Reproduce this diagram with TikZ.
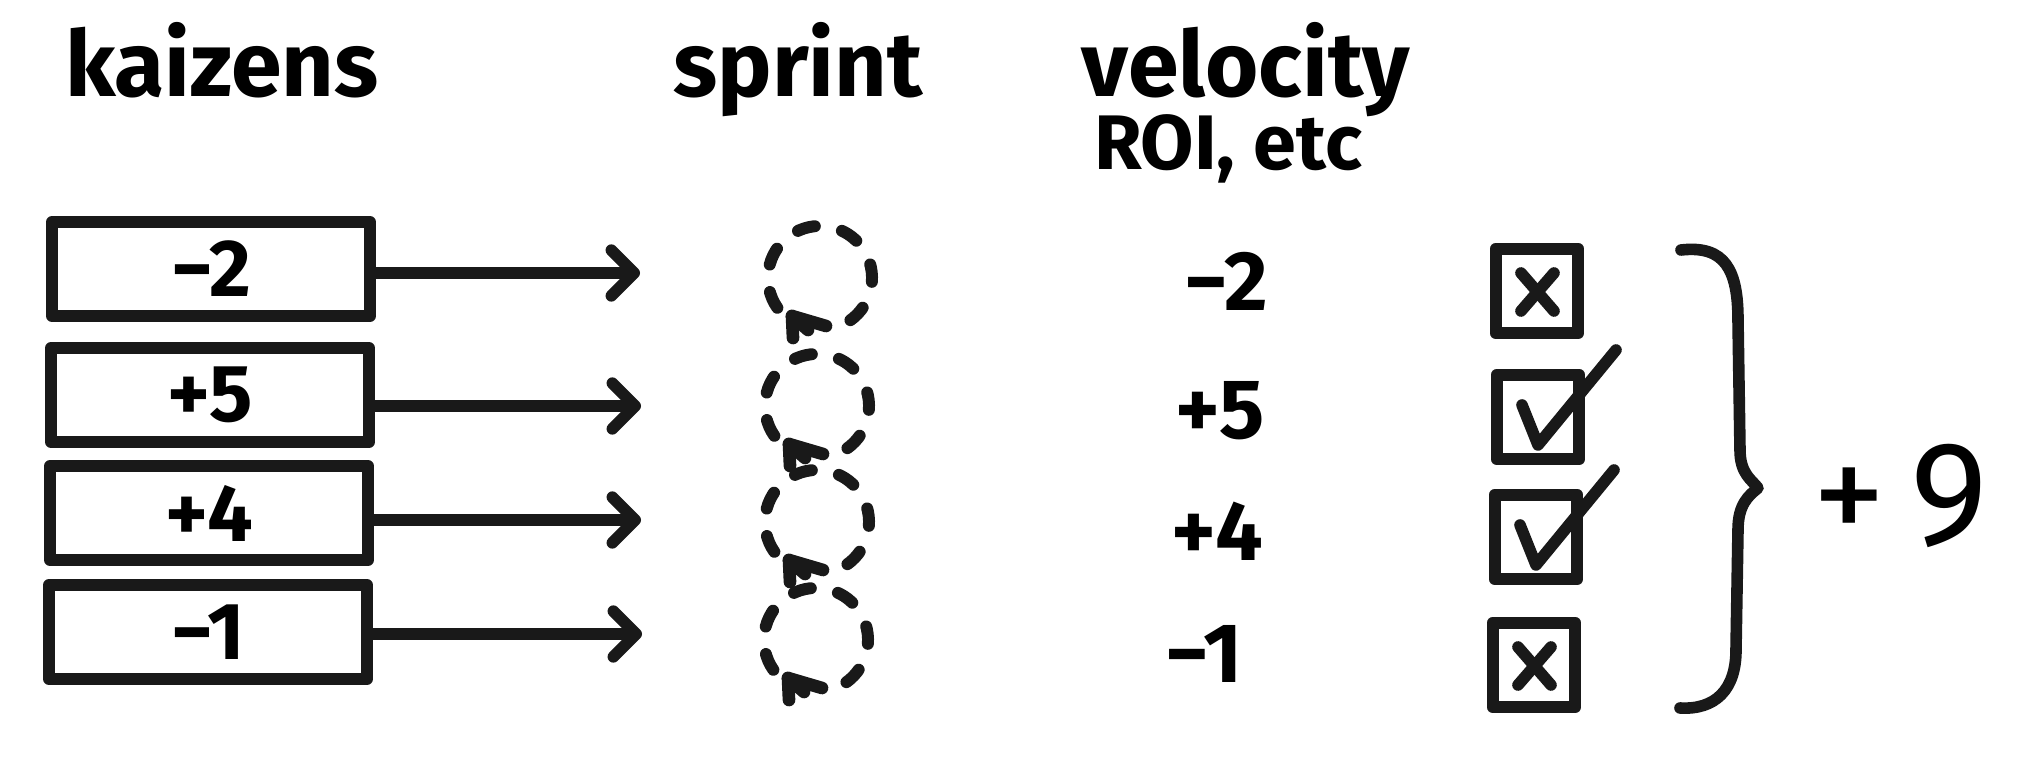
\documentclass[tikz,border=0pt]{standalone}
\usepackage{fontspec}
\setmainfont{Fira Sans}
\usetikzlibrary{arrows.meta}
\begin{document}
\begin{tikzpicture}[x=0.01cm,y=-0.01cm,
  ink/.style={line width=3.3pt, line cap=round, line join=round, draw=black!90},
  kbox/.style={ink, rectangle, minimum width=3.18cm, minimum height=0.94cm, inner sep=0pt,
               font=\bfseries\fontsize{23}{23}\selectfont},
  arr/.style={ink, -{Straight Barb[length=6.5pt,width=13pt,line cap=round,line join=round]}},
  sprintc/.style={circle, minimum size=1.04cm, inner sep=0pt},
  spdash/.style={line width=3.4pt, draw=black!90, dash pattern=on 5pt off 7.9pt, line cap=round},
  sphead/.style={line width=3.6pt, line cap=round, line join=round, draw=black!90},
  head/.style={anchor=base, inner sep=0pt, font=\bfseries\fontsize{26}{26}\selectfont},
  vel/.style={inner sep=0pt, font=\bfseries\fontsize{24}{24}\selectfont},
  chk/.style={ink, line width=3.6pt, rectangle, minimum width=0.82cm, minimum height=0.84cm, inner sep=0pt},
  tick/.style={ink, line width=3.3pt}
]
\fill[white] (0,0) rectangle (2020,767);
\useasboundingbox (0,0) rectangle (2020,767);

% headers
\node[head] (hk) at (222,97) {kaizens};
\node[head] (hs) at (798,97) {sprint};
\node[head] (hv) at (1246,97) {velocity};
\node[head, font=\bfseries\fontsize{22}{22}\selectfont] (hr) at (1228,170) {ROI, etc};

% kaizen boxes
\node[kbox] (k1) at (211,269) {−2};
\node[kbox] (k2) at (210,395) {+5};
\node[kbox] (k3) at (209,513) {+4};
\node[kbox] (k4) at (208,632) {−1};

% arrow ends
\coordinate (e1) at (640,273);
\coordinate (e2) at (641,406);
\coordinate (e3) at (641,520);
\coordinate (e4) at (642,634);
\draw[arr] (k1.east |- e1) -- (e1);
\draw[arr] (k2.east |- e2) -- (e2);
\draw[arr] (k3.east |- e3) -- (e3);
\draw[arr] (k4.east |- e4) -- (e4);

% sprint circles
\node[sprintc] (s1) at (820,278) {};
\node[sprintc] (s2) at (817,406) {};
\node[sprintc] (s3) at (817,522) {};
\node[sprintc] (s4) at (816,640) {};
\foreach \s in {s1,s2,s3,s4}{
  \draw[spdash] (\s.center) ++(215:0.52cm) arc[start angle=215, end angle=-55, radius=0.52cm];
  \draw[sphead] ([shift={(-27,60)}]\s.center) -- ([shift={(-28,38)}]\s.center)
      -- ([shift={(6,48)}]\s.center);
  \draw[sphead] ([shift={(-28,38)}]\s.center) -- ([shift={(-12,52)}]\s.center);
}

% velocity values
\node[vel] (v1) at (1226,281) {−2};
\node[vel] (v2) at (1220,411) {+5};
\node[vel] (v3) at (1217,531) {+4};
\node[vel] (v4) at (1204,654) {−1};

% check boxes
\node[chk] (c1) at (1537,291) {};
\node[chk] (c2) at (1538,417) {};
\node[chk] (c3) at (1536,537) {};
\node[chk] (c4) at (1534,665) {};

\draw[tick] ([shift={(-16,-18)}]c1.center) -- ([shift={(17,20)}]c1.center);
\draw[tick] ([shift={(17,-18)}]c1.center) -- ([shift={(-16,20)}]c1.center);
\draw[tick] ([shift={(-16,-18)}]c4.center) -- ([shift={(17,20)}]c4.center);
\draw[tick] ([shift={(17,-18)}]c4.center) -- ([shift={(-16,20)}]c4.center);

\draw[tick] ([shift={(-16,-12)}]c2.center) -- ([shift={(0,28)}]c2.center) -- ([shift={(78,-67)}]c2.center);
\draw[tick] ([shift={(-16,-12)}]c3.center) -- ([shift={(0,28)}]c3.center) -- ([shift={(78,-67)}]c3.center);

% brace
\draw[ink] (1681,250) .. controls (1725,245) and (1738,270) .. (1738,320)
  -- (1740,450) .. controls (1740,474) and (1752,480) .. (1758,488)
  .. controls (1748,496) and (1738,505) .. (1738,530)
  -- (1736,650) .. controls (1736,690) and (1715,710) .. (1680,708);

\node[inner sep=0pt, font=\fontsize{42}{42}\selectfont] (n9) at (1900,496) {+\,9};
\end{tikzpicture}
\end{document}
